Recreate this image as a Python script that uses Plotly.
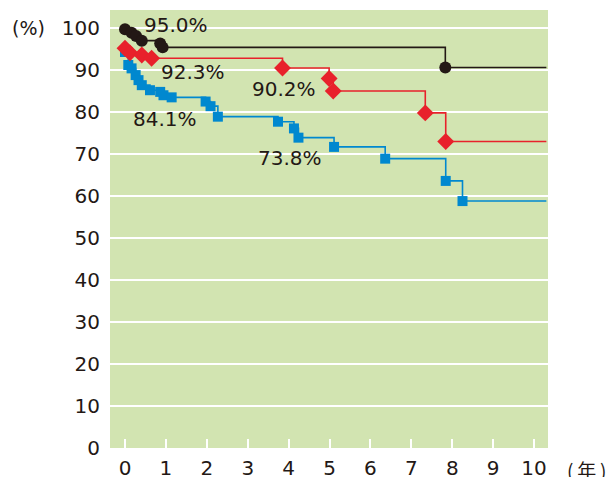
import plotly.graph_objects as go

# Kaplan-Meier style data (years, %)
black_t = [0.0, 0.16, 0.27, 0.41, 0.86, 0.92, 7.83]
black_v = [99.7, 98.9, 98.1, 97.0, 96.3, 95.4, 90.6]
red_t = [0.0, 0.12, 0.41, 0.65, 3.85, 4.99, 5.09, 7.34, 7.84]
red_v = [95.2, 94.1, 93.6, 92.8, 90.5, 88.0, 85.0, 79.8, 73.0]
blue_t = [0.0, 0.08, 0.16, 0.26, 0.33, 0.41, 0.61, 0.86, 0.94, 1.14, 1.97, 2.09, 2.27,
          3.74, 4.13, 4.24, 5.11, 6.36, 7.84, 8.25]
blue_v = [94.3, 91.2, 90.4, 88.8, 87.6, 86.4, 85.2, 84.8, 84.0, 83.5, 82.5, 81.4, 78.9,
          77.7, 76.1, 73.9, 71.7, 68.9, 63.6, 58.8]
end_t = 10.3

x_ticks = list(range(0, 11))
y_ticks = list(range(0, 101, 10))

labels = ["95.0%", "92.3%", "90.2%", "84.1%", "73.8%"]
label_x = [1.25, 1.66, 3.88, 0.98, 4.03]
label_y = [100.8, 89.5, 85.6, 78.4, 69.1]

font_family = "DejaVu Sans, sans-serif"
txt_color = "#231815"
GREEN = "#d2e4b1"

fig = go.Figure()

series = [
    (black_t, black_v, "#231815", "circle", 12),
    (red_t, red_v, "#e8212b", "diamond", 13),
    (blue_t, blue_v, "#0088cf", "square", 10),
]

# lines first, then markers
for t, v, c, sym, sz in series:
    fig.add_trace(go.Scatter(x=t + [end_t], y=v + [v[-1]], mode="lines",
                             line=dict(color=c, width=1.6, shape="hv"),
                             hoverinfo="skip", showlegend=False))
for t, v, c, sym, sz in reversed(series):
    fig.add_trace(go.Scatter(x=t, y=v, mode="markers",
                             marker=dict(color=c, symbol=sym, size=sz, line=dict(width=0)),
                             showlegend=False))

# white grid lines
for yv in y_ticks[1:]:
    fig.add_shape(type="line", xref="paper", x0=0, x1=1, yref="y", y0=yv, y1=yv,
                  line=dict(color="white", width=2), layer="below")

for s, xv, yv in zip(labels, label_x, label_y):
    fig.add_annotation(x=xv, y=yv, text=s, showarrow=False,
                       font=dict(size=20, color=txt_color, family=font_family))

fig.add_annotation(xref="paper", yref="paper", x=-0.185, y=0.959, xanchor="center",
                   yanchor="middle", text="(%)", showarrow=False,
                   font=dict(size=19, color=txt_color, family=font_family))
fig.add_annotation(xref="paper", yref="paper", x=1.089, y=-0.05, xanchor="center",
                   yanchor="middle", text="(\u2009年\u2009)", showarrow=False,
                   font=dict(size=19, color=txt_color, family="Noto Sans CJK JP"))

fig.update_layout(
    width=609, height=477,
    margin=dict(l=110, r=61, t=10, b=29),
    paper_bgcolor="white", plot_bgcolor=GREEN,
    font=dict(family=font_family, size=20, color=txt_color),
    xaxis=dict(range=[-0.367, 10.34], tickvals=x_ticks, ticktext=[str(v) for v in x_ticks],
               showgrid=False, zeroline=False, showline=False,
               ticks="inside", ticklen=9, tickwidth=2, tickcolor="white",
               ticklabelstandoff=6, automargin=False, fixedrange=True),
    yaxis=dict(range=[0, 104.3], tickvals=y_ticks, ticktext=[str(v) for v in y_ticks],
               showgrid=False, zeroline=False, showline=False, ticks="",
               ticklabelstandoff=9, automargin=False, fixedrange=True),
)

fig.write_html("out.html", config={"displayModeBar": False},
               post_script="document.body.style.margin='0';document.body.style.overflow='hidden';")
